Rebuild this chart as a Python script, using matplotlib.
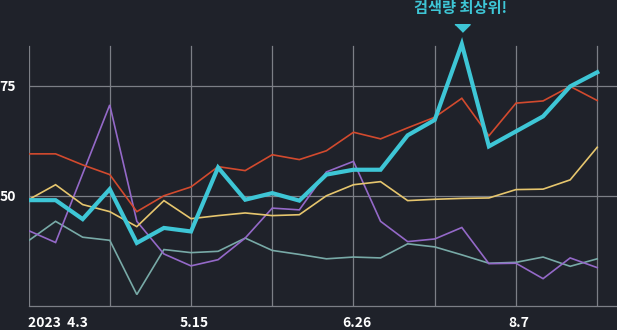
import matplotlib.pyplot as plt
import matplotlib.transforms as mtransforms
import numpy as np

plt.rcParams['font.family'] = ['Noto Sans CJK KR', 'DejaVu Sans']

# weekly search volume index, 2023-04-03 .. 2023-08-28
weeks = np.arange(22)
cyan = [49.0, 49.0, 44.7, 51.5, 39.3, 42.7, 41.9, 56.4, 49.1, 50.6, 48.9, 54.8,
        55.9, 55.9, 63.7, 67.2, 84.4, 61.2, 64.6, 68.0, 74.8, 78.0]
red = [59.5, 59.5, 57.0, 54.8, 46.4, 50.0, 52.0, 56.6, 55.7, 59.3, 58.2, 60.2,
       64.4, 62.9, 65.4, 67.8, 72.1, 63.6, 71.0, 71.5, 74.8, 71.6]
yellow = [49.1, 52.5, 48.0, 46.4, 43.0, 48.9, 44.8, 45.5, 46.1, 45.5, 45.7, 50.0,
          52.5, 53.2, 48.9, 49.2, 49.4, 49.5, 51.4, 51.5, 53.6, 61.0]
purple = [42.1, 39.4, 55.0, 70.6, 44.2, 36.8, 34.1, 35.5, 40.4, 47.2, 46.8, 55.4,
          57.8, 44.2, 39.6, 40.2, 42.8, 34.6, 34.7, 31.2, 35.9, 33.7]
teal = [39.8, 44.2, 40.6, 39.9, 27.6, 37.8, 37.1, 37.4, 40.4, 37.6, 36.7, 35.7,
        36.1, 35.9, 39.1, 38.4, 36.6, 34.7, 34.9, 36.1, 34.0, 35.7]

tick_pos = [0, 6, 12, 18]
tick_labels = ['2023  4.3', '5.15', '6.26', '8.7']
y_ticks = [50, 75]

bg = '#1f222a'
grid_c = '#7c7f86'

fig = plt.figure(figsize=(6.17, 3.30), dpi=100, facecolor=bg)
ax = fig.add_axes([28.5 / 617, 24 / 330, 588.5 / 617, 269 / 330], facecolor=bg)

ax.set_xlim(0, 21.73)
ax.set_ylim(25, 86)

# grid
for v in y_ticks:
    ax.axhline(v, color=grid_c, lw=0.9, zorder=1)
for w in range(0, 22, 3):
    ax.axvline(w, ymax=(84 - 25) / 61, color=grid_c, lw=0.9, zorder=1)

for s in ['top', 'right', 'left']:
    ax.spines[s].set_visible(False)
ax.spines['bottom'].set_color(grid_c)
ax.spines['bottom'].set_linewidth(0.9)

kw = dict(solid_joinstyle='miter', zorder=3)
ax.plot(weeks, teal, color='#78aaa7', lw=1.2, **kw)
ax.plot(weeks, purple, color='#9469c8', lw=1.2, **kw)
ax.plot(weeks, yellow, color='#e6c66e', lw=1.2, **kw)
ax.plot(weeks, red, color='#d24a2e', lw=1.2, **kw)
ax.plot(weeks, cyan, color='#3ec6d6', lw=3.0, solid_joinstyle='miter', zorder=5)

ax.set_yticks(y_ticks)
ax.set_yticklabels([str(v) for v in y_ticks])
ax.set_xticks(tick_pos)
ax.set_xticklabels(tick_labels)
ax.tick_params(axis='both', length=0, colors='white', labelsize=10)
ax.tick_params(axis='y', pad=9)
ax.tick_params(axis='x', pad=7.5)
for lab in ax.get_xticklabels() + ax.get_yticklabels():
    lab.set_fontweight('bold')
ax.get_xticklabels()[0].set_ha('left')
shift = mtransforms.ScaledTranslation(3 / 100, 0, fig.dpi_scale_trans)
for lab in ax.get_xticklabels()[1:]:
    lab.set_transform(lab.get_transform() + shift)

# peak annotation
peak = int(np.argmax(cyan))
tri = mtransforms.offset_copy(ax.transData, fig=fig, y=11.5, units='points')
ax.plot([weeks[peak]], [cyan[peak]], marker=[(-1, 0.5), (1, 0.5), (0, -0.5)],
        markersize=11, color='#3ec6d6', transform=tri, clip_on=False, zorder=6)
ax.annotate('검색량 최상위!', xy=(weeks[peak], cyan[peak]), xytext=(-1, 26),
            textcoords='offset points', ha='center', va='center',
            color='#3ec6d6', fontsize=11, fontweight='bold', annotation_clip=False)

plt.savefig('out.png', dpi=100, facecolor=bg)
